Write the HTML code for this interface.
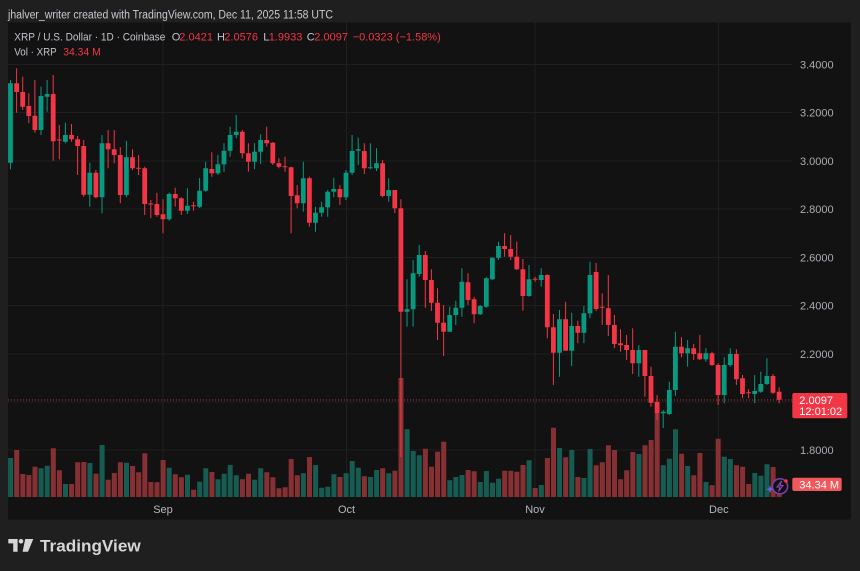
<!DOCTYPE html>
<html><head><meta charset="utf-8"><style>
html,body{margin:0;padding:0;background:#1f1f1f;width:860px;height:571px;overflow:hidden}
svg{display:block}
text{font-family:"Liberation Sans",Arial,sans-serif}
</style></head><body>
<svg width="860" height="571" viewBox="0 0 860 571" xmlns="http://www.w3.org/2000/svg">
<rect x="0" y="0" width="860" height="571" fill="#1f1f1f"/>
<text x="8" y="18.5" font-size="11.5" fill="#c8cbd2" textLength="325" lengthAdjust="spacingAndGlyphs">jhalver_writer created with TradingView.com, Dec 11, 2025 11:58 UTC</text>
<rect x="8" y="22.5" width="843" height="497" fill="#121212"/>
<!-- grid -->
<g stroke="#1f1f1f" stroke-width="1">
<path d="M8 64.5H792M8 112.5H792M8 161H792M8 209H792M8 257.5H792M8 305.5H792M8 354H792M8 402H792M8 450H792"/>
<path d="M163 22.5V497M346.5 22.5V497M535 22.5V497M718.5 22.5V497"/>
</g>
<!-- volume -->
<path fill="#175c52" d="M8.1 458h5V497h-5ZM38.6 468.3h5V497h-5ZM44.7 465.7h5V497h-5ZM63 484h5V497h-5ZM87.4 463h5V497h-5ZM99.6 445h5V497h-5ZM124 462.7h5V497h-5ZM166.7 467.7h5V497h-5ZM185 474.7h5V497h-5ZM197.2 481.7h5V497h-5ZM203.3 468.3h5V497h-5ZM215.5 479.3h5V497h-5ZM221.6 473.7h5V497h-5ZM227.7 465h5V497h-5ZM233.8 475.3h5V497h-5ZM252.1 479.7h5V497h-5ZM258.2 468.3h5V497h-5ZM300.9 473.3h5V497h-5ZM313.1 465h5V497h-5ZM319.2 487.7h5V497h-5ZM325.3 486.7h5V497h-5ZM331.4 474.3h5V497h-5ZM343.6 473.3h5V497h-5ZM349.7 461h5V497h-5ZM355.8 467.7h5V497h-5ZM368 477h5V497h-5ZM374.1 470h5V497h-5ZM386.3 473.3h5V497h-5ZM404.6 429.3h5V497h-5ZM410.7 451h5V497h-5ZM416.8 455.3h5V497h-5ZM447.3 480.3h5V497h-5ZM453.4 477h5V497h-5ZM459.5 475h5V497h-5ZM477.8 482h5V497h-5ZM483.9 471h5V497h-5ZM490 482.7h5V497h-5ZM496.1 478.7h5V497h-5ZM526.6 460.3h5V497h-5ZM538.8 485h5V497h-5ZM557.1 448h5V497h-5ZM569.3 450h5V497h-5ZM581.5 478h5V497h-5ZM587.6 449h5V497h-5ZM636.4 454h5V497h-5ZM660.8 465.3h5V497h-5ZM666.9 458.7h5V497h-5ZM673 429.3h5V497h-5ZM685.2 466h5V497h-5ZM703.5 482h5V497h-5ZM721.8 456.7h5V497h-5ZM727.9 459h5V497h-5ZM752.3 473h5V497h-5ZM758.4 475.7h5V497h-5ZM764.5 464.3h5V497h-5Z"/>
<path fill="#863033" d="M14.2 450h5V497h-5ZM20.3 474h5V497h-5ZM26.4 475h5V497h-5ZM32.5 466.7h5V497h-5ZM50.8 448.3h5V497h-5ZM56.9 470.3h5V497h-5ZM69.1 484h5V497h-5ZM75.2 462.3h5V497h-5ZM81.3 462h5V497h-5ZM93.5 473.7h5V497h-5ZM105.7 479.7h5V497h-5ZM111.8 473h5V497h-5ZM117.9 462.3h5V497h-5ZM130.1 466h5V497h-5ZM136.2 472.3h5V497h-5ZM142.3 453.3h5V497h-5ZM148.4 482h5V497h-5ZM154.5 482.3h5V497h-5ZM160.6 460h5V497h-5ZM172.8 474.3h5V497h-5ZM178.9 477.3h5V497h-5ZM191.1 489.7h5V497h-5ZM209.4 472h5V497h-5ZM239.9 479.3h5V497h-5ZM246 473.7h5V497h-5ZM264.3 472.3h5V497h-5ZM270.4 477.3h5V497h-5ZM276.5 488.3h5V497h-5ZM282.6 487.3h5V497h-5ZM288.7 459h5V497h-5ZM294.8 475.3h5V497h-5ZM307 457h5V497h-5ZM337.5 477h5V497h-5ZM361.9 476.3h5V497h-5ZM380.2 468.3h5V497h-5ZM392.4 470.7h5V497h-5ZM398.5 378h5V497h-5ZM422.9 448.7h5V497h-5ZM429 466.7h5V497h-5ZM435.1 451.7h5V497h-5ZM441.2 441.7h5V497h-5ZM465.6 470h5V497h-5ZM471.7 471.3h5V497h-5ZM502.2 470.7h5V497h-5ZM508.3 470.7h5V497h-5ZM514.4 471.7h5V497h-5ZM520.5 465h5V497h-5ZM532.7 488h5V497h-5ZM544.9 458h5V497h-5ZM551 427.7h5V497h-5ZM563.2 457.3h5V497h-5ZM575.4 477h5V497h-5ZM593.7 465.3h5V497h-5ZM599.8 462.3h5V497h-5ZM605.9 445.3h5V497h-5ZM612 450h5V497h-5ZM618.1 479.3h5V497h-5ZM624.2 470.3h5V497h-5ZM630.3 452h5V497h-5ZM642.5 445.3h5V497h-5ZM648.6 440h5V497h-5ZM654.7 413.3h5V497h-5ZM679.1 453.7h5V497h-5ZM691.3 475.3h5V497h-5ZM697.4 453h5V497h-5ZM709.6 485.3h5V497h-5ZM715.7 438.7h5V497h-5ZM734 465.3h5V497h-5ZM740.1 466.7h5V497h-5ZM746.2 484h5V497h-5ZM770.6 467h5V497h-5ZM776.7 483h5V497h-5Z"/>
<!-- current price dotted line -->
<line x1="8" y1="400" x2="792" y2="400" stroke="#f23645" stroke-width="1" stroke-dasharray="1 2" opacity="0.8"/>
<!-- green wicks -->
<path stroke="#089981" stroke-width="1" fill="none" d="M10.5 80V169.3M41 86.7V135M47.1 80V111.7M65.4 122.7V143.3M89.8 162.7V206.7M102 135V213.3M126.4 140.7V197.3M169.1 192.7V220.7M187.4 188.3V214M199.6 178V208M205.7 161.7V191.7M217.9 155V175M224 143.3V171.7M230.1 126.7V156.7M236.2 115V138.3M254.5 143.3V169.3M260.6 134.3V164M303.3 161.7V211.7M315.5 206.7V231.7M321.6 201.7V216.7M327.7 190V216.7M333.8 177.7V197.3M346 170V200M352.1 135V175M358.2 137.7V165M370.4 143.3V169.3M376.5 148.3V171M388.7 178.3V201.7M407 279.3V326.7M413.1 260V326.7M419.2 245V276.7M449.7 306.7V331.7M455.8 300.7V325M461.9 268.3V316.7M480.2 305V315M486.3 277.3V307.7M492.4 257.7V280M498.5 241.7V260M529 265V296.7M541.2 268.3V286.7M559.5 310V376.7M571.7 312.7V366M583.9 306V343.3M590 261.7V318.3M638.8 345V376.7M663.2 410V428M669.3 381.7V415M675.4 331.7V396M687.6 340V366.7M705.9 348.3V361.7M724.2 357.3V403.3M730.3 348.3V366.7M754.7 375V403.3M760.8 371.7V392.7M766.9 358.3V385"/>
<!-- red wicks -->
<path stroke="#f23645" stroke-width="1" fill="none" d="M16.6 68.3V112.7M22.7 76.7V110M28.8 93.3V123.3M34.9 80V132.7M53.2 75V160.7M59.3 125V159.3M71.5 124V141.7M77.6 136V175M83.7 140V196.7M95.9 170V198.3M108.1 130V168.3M114.2 130V163.3M120.3 147.3V203.3M132.5 149.3V170M138.6 155V175M144.7 166.7V215M150.8 200V218.3M156.9 192.7V216.7M163 199.3V233.3M175.2 187.7V206.7M181.3 197.3V215M193.5 201.7V210.7M211.8 152.3V176.7M242.3 130V158.3M248.4 143.3V171.7M266.7 126.7V146.7M272.8 142V165M278.9 158.3V168.3M285 156.7V171.7M291.1 166.7V233.3M297.2 185V208.3M309.4 176.7V226.7M339.9 185V205M364.3 143.3V174M382.6 160V197.3M394.8 190V213M400.9 199.3V457M425.3 251V307.7M431.4 269.3V311M437.5 288.3V340M443.6 305V356M468 273.3V305M474.1 296.7V323.3M504.6 233.3V256.7M510.7 235V260M516.8 241.7V270M522.9 259V310.7M535.1 276.7V281.7M547.3 274.3V338.3M553.4 314V385M565.6 301.7V350.7M577.8 320.7V343.3M596.1 263V311M602.2 293.3V325M608.3 275V336M614.4 315V348.3M620.5 329.3V351.7M626.6 335V360M632.7 328.3V374M644.9 350V396.7M651 366.7V406.7M657.1 395V420M681.5 337.3V357.3M693.7 344V360M699.8 335V360M712 351.7V366M718.1 363.3V405M736.4 349.3V385M742.5 375V398.3M748.6 389.3V398.3M773 374V394M779.1 387.3V403.3"/>
<!-- green bodies -->
<path fill="#089981" d="M8.1 83.3h4.8V162.7h-4.8ZM38.6 96h4.8V130h-4.8ZM44.7 94h4.8V96.7h-4.8ZM63 135h4.8V141.7h-4.8ZM87.4 172.7h4.8V194.7h-4.8ZM99.6 143.3h4.8V197.3h-4.8ZM124 157.3h4.8V195h-4.8ZM166.7 194h4.8V219.3h-4.8ZM185 205.7h4.8V210.7h-4.8ZM197.2 190.7h4.8V206.7h-4.8ZM203.3 168.3h4.8V190.7h-4.8ZM215.5 164.3h4.8V173.3h-4.8ZM221.6 150.7h4.8V164.3h-4.8ZM227.7 135h4.8V150.7h-4.8ZM233.8 131.7h4.8V135h-4.8ZM252.1 151.7h4.8V161.7h-4.8ZM258.2 140h4.8V151.7h-4.8ZM300.9 178.3h4.8V203.3h-4.8ZM313.1 212.7h4.8V222.7h-4.8ZM319.2 207.3h4.8V212.7h-4.8ZM325.3 191.7h4.8V207.3h-4.8ZM331.4 189h4.8V191.7h-4.8ZM343.6 172.7h4.8V197.3h-4.8ZM349.7 151h4.8V172.7h-4.8ZM355.8 149.3h4.8V150.7h-4.8ZM368 167.3h4.8V168.3h-4.8ZM374.1 163.3h4.8V168.3h-4.8ZM386.3 190h4.8V196h-4.8ZM404.6 309.3h4.8V311.7h-4.8ZM410.7 273.3h4.8V309.3h-4.8ZM416.8 255h4.8V274h-4.8ZM447.3 315h4.8V331.7h-4.8ZM453.4 307.7h4.8V315h-4.8ZM459.5 281.7h4.8V307.7h-4.8ZM477.8 306h4.8V314.3h-4.8ZM483.9 278.3h4.8V306.7h-4.8ZM490 257.7h4.8V279.3h-4.8ZM496.1 246h4.8V257.7h-4.8ZM526.6 279.3h4.8V296h-4.8ZM538.8 275h4.8V280h-4.8ZM557.1 319.3h4.8V352.7h-4.8ZM569.3 326h4.8V350.7h-4.8ZM581.5 313.3h4.8V332.7h-4.8ZM587.6 275h4.8V313.3h-4.8ZM636.4 350h4.8V363.3h-4.8ZM660.8 411.7h4.8V413.3h-4.8ZM666.9 390h4.8V414h-4.8ZM673 346.7h4.8V390h-4.8ZM685.2 348.3h4.8V353.3h-4.8ZM703.5 353.3h4.8V359.3h-4.8ZM721.8 365h4.8V395h-4.8ZM727.9 354h4.8V365h-4.8ZM752.3 391h4.8V394h-4.8ZM758.4 384h4.8V391.7h-4.8ZM764.5 376h4.8V384h-4.8Z"/>
<!-- red bodies -->
<path fill="#f23645" d="M14.2 83.3h4.8V92h-4.8ZM20.3 92h4.8V106.7h-4.8ZM26.4 106h4.8V116h-4.8ZM32.5 115.7h4.8V130h-4.8ZM50.8 94h4.8V141.3h-4.8ZM56.9 139.5h4.8V140.5h-4.8ZM69.1 135h4.8V139.3h-4.8ZM75.2 139.3h4.8V146h-4.8ZM81.3 146h4.8V194.7h-4.8ZM93.5 172.7h4.8V197.3h-4.8ZM105.7 143.3h4.8V149.3h-4.8ZM111.8 149.3h4.8V155h-4.8ZM117.9 155h4.8V195h-4.8ZM130.1 157.3h4.8V168.3h-4.8ZM136.2 167.8h4.8V168.8h-4.8ZM142.3 168.3h4.8V204h-4.8ZM148.4 203.5h4.8V204.5h-4.8ZM154.5 204h4.8V215h-4.8ZM160.6 214.3h4.8V219.3h-4.8ZM172.8 194h4.8V198.3h-4.8ZM178.9 198.3h4.8V210.7h-4.8ZM191.1 205.2h4.8V206.2h-4.8ZM209.4 169h4.8V173.3h-4.8ZM239.9 131.7h4.8V153.3h-4.8ZM246 153.3h4.8V161.7h-4.8ZM264.3 140h4.8V143.3h-4.8ZM270.4 142.7h4.8V163.3h-4.8ZM276.5 163.3h4.8V166.7h-4.8ZM282.6 166.2h4.8V167.2h-4.8ZM288.7 167.3h4.8V196h-4.8ZM294.8 195.3h4.8V203.3h-4.8ZM307 178.3h4.8V222.7h-4.8ZM337.5 189h4.8V197.3h-4.8ZM361.9 151h4.8V168.3h-4.8ZM380.2 163.3h4.8V196h-4.8ZM392.4 190h4.8V208.3h-4.8ZM398.5 208.3h4.8V311.7h-4.8ZM422.9 255h4.8V280h-4.8ZM429 280h4.8V302.7h-4.8ZM435.1 302.7h4.8V322.7h-4.8ZM441.2 322.7h4.8V331.7h-4.8ZM465.6 282.3h4.8V300h-4.8ZM471.7 299.3h4.8V314.3h-4.8ZM502.2 246h4.8V249h-4.8ZM508.3 249h4.8V256.7h-4.8ZM514.4 256.7h4.8V269.3h-4.8ZM520.5 269.3h4.8V296h-4.8ZM532.7 278.8h4.8V279.8h-4.8ZM544.9 275h4.8V327.3h-4.8ZM551 327.3h4.8V352.7h-4.8ZM563.2 319.3h4.8V350.7h-4.8ZM575.4 326h4.8V332.7h-4.8ZM593.7 272h4.8V309h-4.8ZM599.8 306.8h4.8V307.8h-4.8ZM605.9 308.3h4.8V325h-4.8ZM612 325h4.8V344h-4.8ZM618.1 343.3h4.8V345.3h-4.8ZM624.2 345h4.8V350h-4.8ZM630.3 350h4.8V363.3h-4.8ZM642.5 350h4.8V376h-4.8ZM648.6 376h4.8V402.7h-4.8ZM654.7 401.7h4.8V413.3h-4.8ZM679.1 346.7h4.8V353.3h-4.8ZM691.3 348.3h4.8V354h-4.8ZM697.4 353.3h4.8V359.3h-4.8ZM709.6 353.3h4.8V365h-4.8ZM715.7 365h4.8V395h-4.8ZM734 354h4.8V379.3h-4.8ZM740.1 378.3h4.8V394h-4.8ZM746.2 392.2h4.8V393.2h-4.8ZM770.6 376h4.8V392.7h-4.8ZM776.7 391.7h4.8V399.7h-4.8Z"/>
<!-- legend -->
<text x="14.3" y="40.7" font-size="11" fill="#c0c3ca" textLength="151" lengthAdjust="spacingAndGlyphs">XRP / U.S. Dollar · 1D · Coinbase</text>
<text y="40.7" font-size="11">
<tspan x="171.7" fill="#c0c3ca">O</tspan><tspan x="179.3" fill="#f23645">2.0421</tspan>
<tspan x="217" fill="#c0c3ca">H</tspan><tspan x="224.3" fill="#f23645">2.0576</tspan>
<tspan x="263.3" fill="#c0c3ca">L</tspan><tspan x="268.7" fill="#f23645">1.9933</tspan>
<tspan x="306.7" fill="#c0c3ca">C</tspan><tspan x="314.3" fill="#f23645">2.0097</tspan>
<tspan x="352.7" fill="#f23645">−0.0323 (−1.58%)</tspan>
</text>
<text x="14.3" y="55.5" font-size="11" fill="#c0c3ca" textLength="42.4" lengthAdjust="spacingAndGlyphs">Vol · XRP</text>
<text x="63.3" y="55.5" font-size="11" fill="#f23645" textLength="37.4" lengthAdjust="spacingAndGlyphs">34.34 M</text>
<!-- price axis -->
<g font-size="11" fill="#a9acb3">
<text x="800" y="68.5">3.4000</text>
<text x="800" y="116.5">3.2000</text>
<text x="800" y="165">3.0000</text>
<text x="800" y="213">2.8000</text>
<text x="800" y="261.5">2.6000</text>
<text x="800" y="309.5">2.4000</text>
<text x="800" y="358">2.2000</text>
<text x="800" y="454">1.8000</text>
</g>
<rect x="792.3" y="393" width="55" height="25.3" rx="2" fill="#f23645"/>
<text x="799.3" y="404" font-size="11" fill="#ffffff">2.0097</text>
<text x="799.3" y="415" font-size="11" fill="#ffffff">12:01:02</text>
<rect x="792.3" y="477.7" width="49.4" height="13.3" rx="2" fill="#f0585c"/>
<text x="799.3" y="488.3" font-size="11" fill="#ffffff">34.34 M</text>
<!-- icon -->
<circle cx="780" cy="486.3" r="7.6" fill="#121212" stroke="#7d3fb0" stroke-width="1.5"/>
<path d="M781.5 481L777 487h3l-1.5 4.5 4.5-6h-3z" fill="none" stroke="#8e4bc4" stroke-width="1"/>
<circle cx="786" cy="481" r="1.8" fill="#f23645"/>
<path d="M770 485.5l1 2.8 2.8 1-2.8 1-1 2.8-1-2.8-2.8-1 2.8-1z" fill="#6b63e0"/>
<!-- time axis -->
<g font-size="11" fill="#b4b7be" text-anchor="middle">
<text x="163" y="513">Sep</text>
<text x="346.5" y="513">Oct</text>
<text x="535" y="513">Nov</text>
<text x="718.8" y="513">Dec</text>
</g>
<!-- logo -->
<g fill="#d6d6d6">
<path d="M8.3 539H17.6V551.7H13.2V543.4H8.3Z"/>
<circle cx="21" cy="541.3" r="2.3"/>
<path d="M25.2 539H33.3L28 551.7H22.6Z"/>
<text x="40" y="551.7" font-size="17" font-weight="bold" textLength="100.7" lengthAdjust="spacingAndGlyphs">TradingView</text>
</g>
</svg>
</body></html>
